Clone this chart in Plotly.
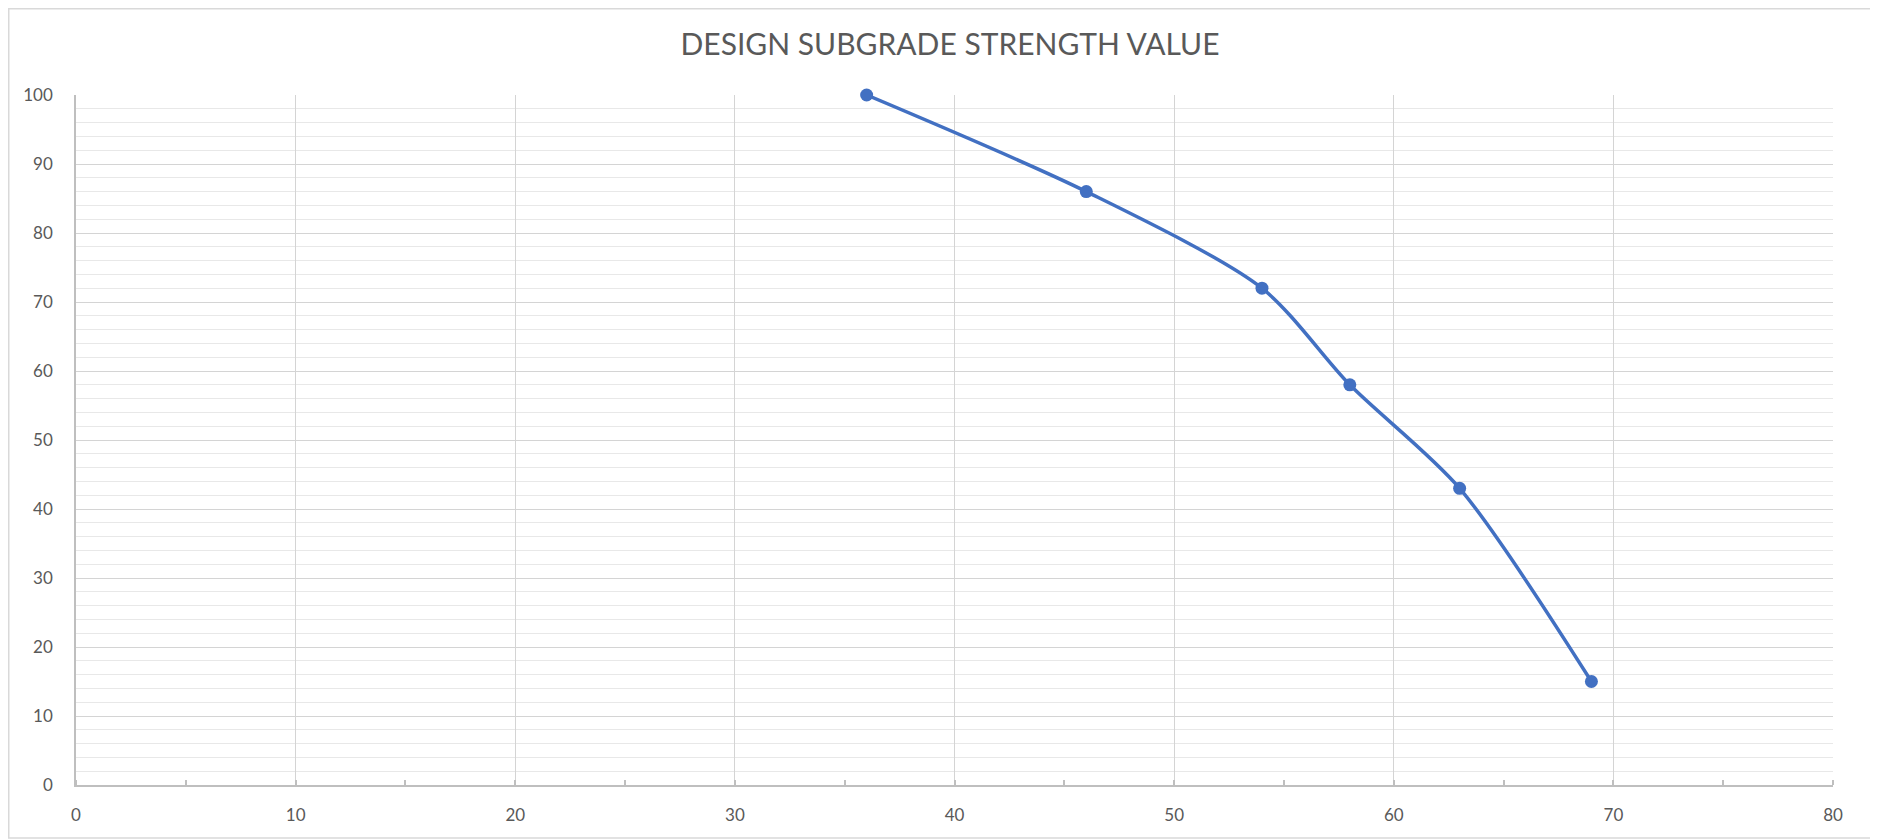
import plotly.graph_objects as go

x_vals = [36, 46, 54, 58, 63, 69]
y_vals = [100, 86, 72, 58, 43, 15]
title_text = "DESIGN SUBGRADE STRENGTH VALUE"
x_ticks = [0, 10, 20, 30, 40, 50, 60, 70, 80]
y_ticks = [0, 10, 20, 30, 40, 50, 60, 70, 80, 90, 100]

FONT = "Lato"
TICK_COLOR = "#595959"

W, H = 1870, 832
ML, MR, MT, MB = 68, 45, 87, 55
PW, PH = W - ML - MR, H - MT - MB

fig = go.Figure()
fig.add_trace(go.Scatter(
    x=x_vals, y=y_vals, mode="lines+markers",
    line=dict(color="#4270C2", width=3.5, shape="spline", smoothing=0.8),
    marker=dict(color="#4270C2", size=13),
    showlegend=False, cliponaxis=False,
))

fig.update_layout(
    width=W, height=H,
    paper_bgcolor="white", plot_bgcolor="white",
    margin=dict(l=ML, r=MR, t=MT, b=MB),
    title=dict(text=title_text, x=942 / W, xref="container", xanchor="center",
               y=1 - 36 / H, yref="container", yanchor="middle",
               font=dict(family=FONT, size=30, color="#595959")),
    font=dict(family=FONT, size=17, color=TICK_COLOR),
    shapes=[dict(type="rect", xref="paper", yref="paper",
                 x0=(0.75 - ML) / PW, x1=(1864 - ML) / PW,
                 y0=-(830 - MT - PH) / PH, y1=1 + (MT - 0.75) / PH,
                 line=dict(color="#d9d9d9", width=1.5), layer="below")],
)

fig.update_xaxes(
    range=[0, 80], tickvals=x_ticks, ticktext=[str(v) for v in x_ticks],
    showgrid=True, gridcolor="#d4d4d4", gridwidth=1.3,
    showline=True, linecolor="#bfbfbf", linewidth=1.5,
    zeroline=False, ticks="", ticklabelstandoff=14,
    tickfont=dict(family=FONT, size=17, color=TICK_COLOR),
    minor=dict(dtick=5, tick0=0, ticks="inside", ticklen=5, tickcolor="#bfbfbf",
               tickwidth=1.5, showgrid=False),
    fixedrange=True,
)
fig.update_yaxes(
    range=[0, 100], tickvals=y_ticks, ticktext=[str(v) for v in y_ticks],
    showgrid=True, gridcolor="#d4d4d4", gridwidth=1.3,
    showline=True, linecolor="#bfbfbf", linewidth=1.5,
    zeroline=False, ticks="", ticklabelstandoff=18,
    tickfont=dict(family=FONT, size=17, color=TICK_COLOR),
    minor=dict(dtick=2, tick0=0, showgrid=True, gridcolor="#e8e8e8", gridwidth=1),
    fixedrange=True,
)

fig.write_html("out.html")
